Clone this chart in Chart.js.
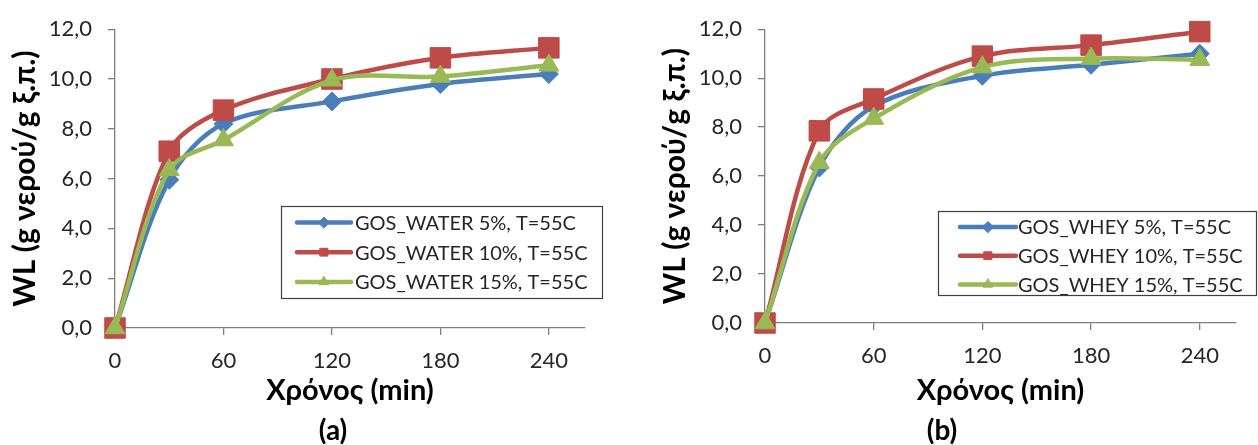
<!DOCTYPE html>
<html>
<head>
<meta charset="utf-8">
<script src="https://cdn.jsdelivr.net/npm/chart.js@4.4.0/dist/chart.umd.min.js"></script>
<style>
  body { margin: 0; background: #fff; width: 1258px; height: 445px; overflow: hidden; position: relative; }
  canvas { position: absolute; top: 0; }
  #wa { left: 0; }
  #wb { left: 650px; }
</style>
</head>
<body>
<canvas id="wa" width="615" height="445"></canvas>
<canvas id="wb" width="608" height="445"></canvas>
<script>
// sampling times (min) and axis ticks
const minutes = [0, 30, 60, 120, 180, 240];
const xTicks = [0, 60, 120, 180, 240];
const yTicks = [0, 2, 4, 6, 8, 10, 12];

// water loss, GOS in water
const waterLabels = ['GOS_WATER 5%, T=55C', 'GOS_WATER 10%, T=55C', 'GOS_WATER 15%, T=55C'];
const water5  = [0, 5.95, 8.2, 9.1, 9.8, 10.2];
const water10 = [0, 7.1, 8.75, 10.0, 10.85, 11.25];
const water15 = [0, 6.35, 7.55, 9.95, 10.1, 10.55];

// water loss, GOS in whey
const wheyLabels = ['GOS_WHEY 5%, T=55C', 'GOS_WHEY 10%, T=55C', 'GOS_WHEY 15%, T=55C'];
const whey5  = [0, 6.35, 8.85, 10.1, 10.55, 11.0];
const whey10 = [0, 7.85, 9.15, 10.9, 11.35, 11.9];
const whey15 = [0, 6.55, 8.35, 10.45, 10.8, 10.75];

const colors = ['#4A7EBB', '#BE4B48', '#98B954'];
const markers = ['rectRot', 'rect', 'triangle'];
const markerSize = [9.5, 14.5, 11.5];

const FONT = 'Lato, "Open Sans", sans-serif';
const AXIS = '#7f7f7f';

// framed legend inside the plot + the (a)/(b) caption under the axis
const boxLegend = {
  id: 'boxLegend',
  afterDraw(chart, args, o) {
    const ctx = chart.ctx;
    ctx.save();
    ctx.fillStyle = '#fff';
    ctx.fillRect(o.x, o.y, o.w, o.h);
    ctx.strokeStyle = '#404040';
    ctx.lineWidth = 1.2;
    ctx.strokeRect(o.x + 0.5, o.y + 0.5, o.w, o.h);
    ctx.font = '20px ' + FONT;
    ctx.textBaseline = 'middle';
    chart.data.datasets.forEach((ds, i) => {
      const y = o.y + o.rowTop + i * o.rowGap;
      const x0 = o.x + o.lineLeft;
      ctx.strokeStyle = ds.borderColor;
      ctx.lineWidth = 4.5;
      ctx.lineCap = 'round';
      ctx.beginPath();
      ctx.moveTo(x0, y);
      ctx.lineTo(x0 + o.lineLen, y);
      ctx.stroke();
      ctx.fillStyle = ds.backgroundColor;
      ctx.lineWidth = 1;
      Chart.helpers.drawPoint(ctx, { pointStyle: ds.pointStyle, radius: 5.5, rotation: 0, borderWidth: 1 }, x0 + o.lineLen / 2, y);
      ctx.fillStyle = '#262626';
      ctx.fillText(ds.label, o.x + o.textLeft, y + 1);
    });

    ctx.fillStyle = '#000';
    ctx.font = 'bold 28px ' + FONT;
    ctx.textAlign = 'center';
    ctx.fillText(o.caption, o.captionX, chart.height - 14);
    ctx.restore();
  }
};

function series(labels, values) {
  return values.map((v, i) => ({
    label: labels[i],
    data: minutes.map((m, j) => ({ x: m, y: v[j] })),
    borderColor: colors[i],
    backgroundColor: colors[i],
    borderWidth: 4.5,
    pointStyle: markers[i],
    pointRadius: markerSize[i],
    pointHoverRadius: markerSize[i],
    pointBorderWidth: 1,
    tension: 0.33,
    clip: false,
    order: 3 - i
  }));
}

function makeChart(id, labels, values, yAxisWidth, xAxisHeight, padRight, legendBox) {
  return new Chart(document.getElementById(id), {
    type: 'line',
    data: { datasets: series(labels, values) },
    plugins: [boxLegend],
    options: {
      responsive: false,
      animation: false,
      events: [],
      layout: { padding: { top: 24, right: padRight, left: 0, bottom: 27 } },
      plugins: {
        legend: { display: false },
        tooltip: { enabled: false },
        boxLegend: legendBox
      },
      scales: {
        x: {
          type: 'linear',
          min: 0,
          max: 260,
          afterBuildTicks: s => { s.ticks = xTicks.map(v => ({ value: v })); },
          afterFit: s => { s.height = xAxisHeight; },
          grid: { drawOnChartArea: false, drawTicks: true, tickLength: 7, color: AXIS, lineWidth: 1.3 },
          border: { color: AXIS, width: 1.3 },
          ticks: { color: '#262626', font: { family: FONT, size: 22 }, padding: 13, maxRotation: 0 },
          title: {
            display: true,
            text: 'Χρόνος (min)',
            color: '#000',
            font: { family: FONT, size: 29, weight: 'bold' },
            padding: { top: 0, bottom: 10 }
          }
        },
        y: {
          min: 0,
          max: 12,
          afterBuildTicks: s => { s.ticks = yTicks.map(v => ({ value: v })); },
          afterFit: s => { s.width = yAxisWidth; },
          grid: { drawOnChartArea: false, drawTicks: true, tickLength: 7, color: AXIS, lineWidth: 1.3 },
          border: { color: AXIS, width: 1.3 },
          ticks: {
            color: '#262626',
            font: { family: FONT, size: 22 },
            padding: 16,
            callback: v => v.toFixed(1).replace('.', ',')
          },
          title: {
            display: true,
            text: 'WL (g νερού/g ξ.π.)',
            color: '#000',
            font: { family: FONT, size: 30, weight: 'bold' },
            padding: { top: 7, bottom: 0 }
          }
        }
      }
    }
  });
}

makeChart('wa', waterLabels, [water5, water10, water15], 115, 90, 30,
  { x: 281, y: 206, w: 321, h: 92, rowTop: 16.5, rowGap: 29.7, lineLeft: 16, lineLen: 54, textLeft: 74,
    caption: '(a)', captionX: 333 });
makeChart('wb', wheyLabels, [whey5, whey10, whey15], 115, 95, 22,
  { x: 288, y: 211, w: 318, h: 84, rowTop: 16, rowGap: 28.7, lineLeft: 22, lineLen: 56, textLeft: 80,
    caption: '(b)', captionX: 292 });
</script>
</body>
</html>
